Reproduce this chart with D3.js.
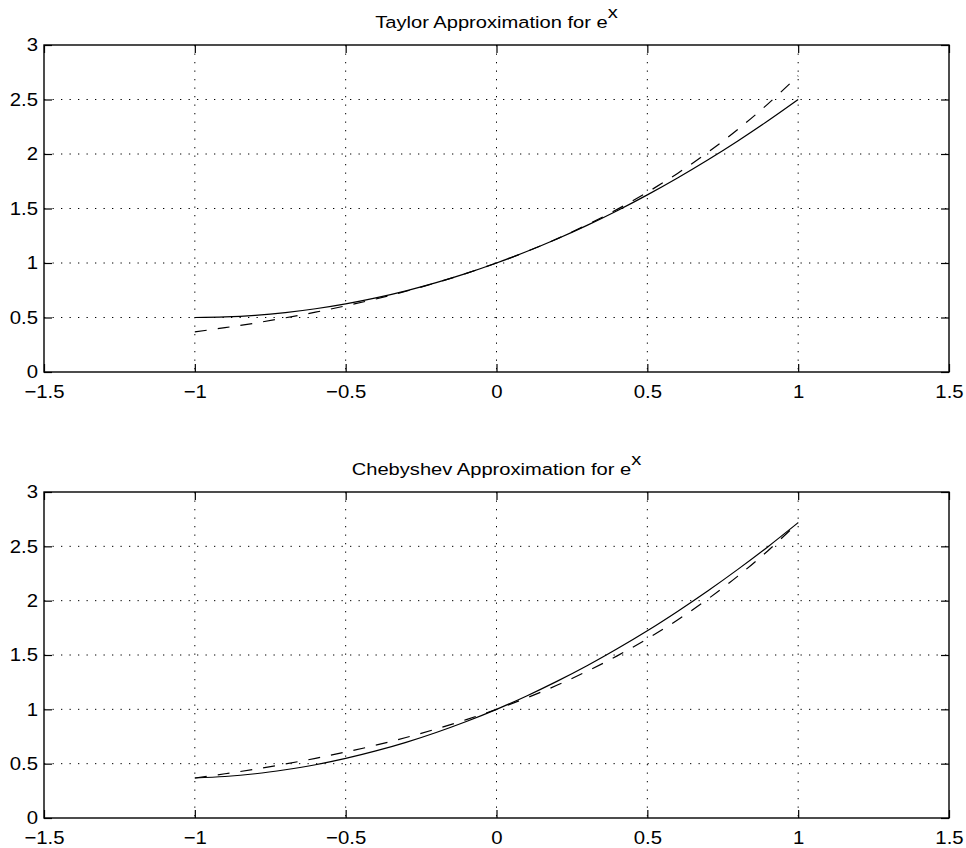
<!DOCTYPE html>
<html>
<head>
<meta charset="utf-8">
<script src="https://cdn.jsdelivr.net/npm/d3@7"></script>
<style>
  body { margin: 0; background: #fff; }
  svg text { font-family: "Liberation Sans", Arial, sans-serif; fill: #000; }
</style>
</head>
<body>
<div id="chart"></div>
<script>
const xs = [-1, -0.9, -0.8, -0.7, -0.6, -0.5, -0.4, -0.3, -0.2, -0.1, 0,
            0.1, 0.2, 0.3, 0.4, 0.5, 0.6, 0.7, 0.8, 0.9, 1]
const expVals = [0.368, 0.407, 0.449, 0.497, 0.549, 0.607, 0.670, 0.741, 0.819, 0.905, 1.00,
                 1.105, 1.221, 1.350, 1.492, 1.649, 1.822, 2.014, 2.226, 2.460, 2.718]
const taylorVals = [0.50, 0.505, 0.52, 0.545, 0.58, 0.625, 0.68, 0.745, 0.82, 0.905, 1.00,
                    1.105, 1.22, 1.345, 1.48, 1.625, 1.78, 1.945, 2.12, 2.305, 2.50]
const chebVals = [0.368, 0.382, 0.407, 0.444, 0.490, 0.548, 0.617, 0.696, 0.787, 0.888, 1.00,
                  1.123, 1.257, 1.401, 1.557, 1.723, 1.901, 2.089, 2.288, 2.497, 2.718]
const xTicks = [-1.5, -1, -0.5, 0, 0.5, 1, 1.5]
const yTicks = [0, 0.5, 1, 1.5, 2, 2.5, 3]
const xTickLabels = ['\u22121.5', '\u22121', '\u22120.5', '0', '0.5', '1', '1.5']
const yTickLabels = ['0', '0.5', '1', '1.5', '2', '2.5', '3']

const W = 966, H = 848
const svg = d3.select('#chart').append('svg')
    .attr('width', W).attr('height', H)

const left = 44, right = 949

function panel(top, bottom, title, solidVals, dashVals) {
  let x = d3.scaleLinear().domain([-1.5, 1.5]).range([left, right])
  let y = d3.scaleLinear().domain([0, 3]).range([bottom, top])
  let g = svg.append('g')

  // dotted grid
  g.selectAll('.vgrid').data(xTicks.slice(1, -1)).enter().append('line')
      .attr('x1', d => x(d)).attr('x2', d => x(d))
      .attr('y1', top).attr('y2', bottom)
      .attr('stroke', '#000').attr('stroke-width', 1)
      .attr('stroke-dasharray', '1.3,7.2')
  g.selectAll('.hgrid').data(yTicks.slice(1, -1)).enter().append('line')
      .attr('x1', left).attr('x2', right)
      .attr('y1', d => y(d)).attr('y2', d => y(d))
      .attr('stroke', '#000').attr('stroke-width', 1)
      .attr('stroke-dasharray', '1.3,7.2')

  let xAxis = g.append('g')
      .attr('transform', 'translate(0,' + bottom + ')')
      .call(d3.axisBottom(x).tickValues(xTicks).tickSize(-8).tickSizeOuter(0)
        .tickPadding(13).tickFormat((d, i) => xTickLabels[i]))
  let yAxis = g.append('g')
      .attr('transform', 'translate(' + left + ',0)')
      .call(d3.axisLeft(y).tickValues(yTicks).tickSize(-8).tickSizeOuter(0)
        .tickPadding(6).tickFormat((d, i) => yTickLabels[i]))
  g.append('g')
      .attr('transform', 'translate(0,' + top + ')')
      .call(d3.axisTop(x).tickValues(xTicks).tickSize(-8).tickSizeOuter(0).tickFormat(''))
  g.append('g')
      .attr('transform', 'translate(' + right + ',0)')
      .call(d3.axisRight(y).tickValues(yTicks).tickSize(-8).tickSizeOuter(0).tickFormat(''))

  g.selectAll('.domain').remove()
  g.selectAll('.tick line').attr('stroke', '#000').attr('stroke-width', 1.2)
  xAxis.selectAll('text').attr('font-size', 18.5).attr('transform', 'scale(1.1,1)')
  yAxis.selectAll('text').attr('font-size', 18.5).attr('x', -5.5).attr('transform', 'scale(1.1,1)')

  // box
  g.append('rect')
      .attr('x', left).attr('y', top)
      .attr('width', right - left).attr('height', bottom - top)
      .attr('fill', 'none').attr('stroke', '#000').attr('stroke-width', 1.4)

  let line = d3.line()
      .x((d, i) => x(xs[i]))
      .y(d => y(d))
      .curve(d3.curveCatmullRom)

  g.append('path').datum(dashVals)
      .attr('d', line)
      .attr('fill', 'none').attr('stroke', '#000').attr('stroke-width', 1.2)
      .attr('stroke-dasharray', '12,11')
  g.append('path').datum(solidVals)
      .attr('d', line)
      .attr('fill', 'none').attr('stroke', '#000').attr('stroke-width', 1.2)

  let t = g.append('text')
      .attr('transform', 'translate(' + ((left + right) / 2) + ',' + (top - 17) + ') scale(1.22,1)')
      .attr('text-anchor', 'middle')
      .attr('font-size', 16.5)
  t.append('tspan').text(title + ' e')
  t.append('tspan').attr('dx', 0).attr('dy', -10).text('x')
}

panel(45, 372, 'Taylor Approximation for', taylorVals, expVals)
panel(492, 818, 'Chebyshev Approximation for', chebVals, expVals)
</script>
</body>
</html>
